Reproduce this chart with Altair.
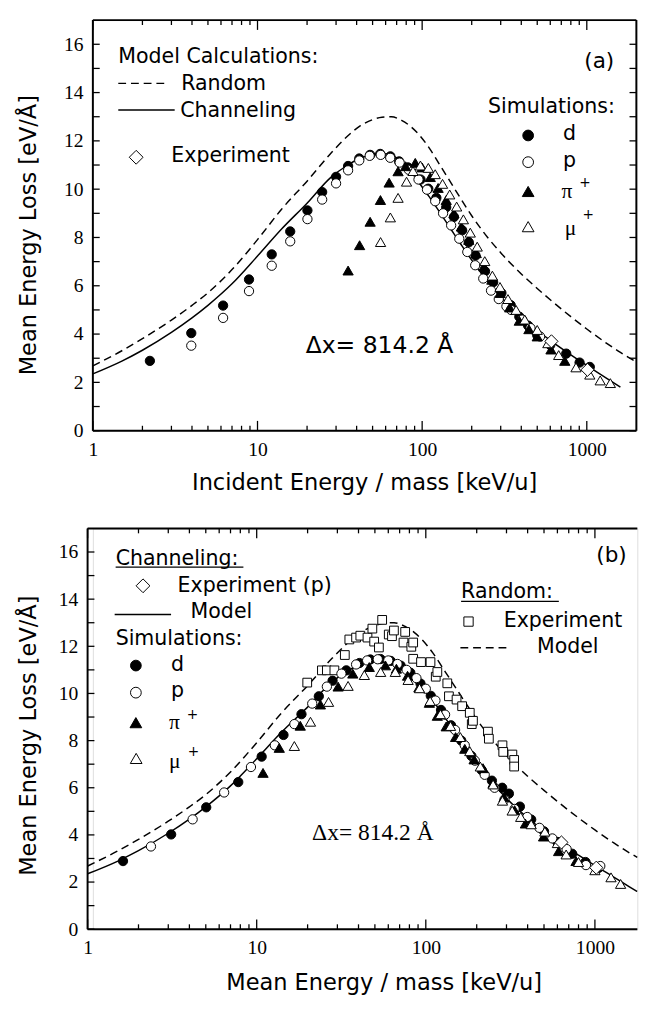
import altair as alt
import pandas as pd

# ---------------- axis ticks / labels ----------------
X_LABELS = [1, 10, 100, 1000]
X_MINOR = [2, 3, 4, 5, 6, 7, 8, 9, 20, 30, 40, 50, 60, 70, 80, 90,
           200, 300, 400, 500, 600, 700, 800, 900]
Y_LABELS = [0, 2, 4, 6, 8, 10, 12, 14, 16]
Y_TICKS = list(range(0, 17))

# ---------------- model curves ----------------
model_x = [1, 1.5, 2, 3, 4, 5, 7, 10, 14, 20, 28, 35, 42, 50, 57, 65, 75, 85, 95, 110,
           130, 150, 170, 200, 250, 300, 400, 500, 600, 800, 1000, 1300, 1600, 1780, 2000]
channeling_y = [2.35, 2.88, 3.33, 4.07, 4.67, 5.19, 6.08, 7.23, 8.35, 9.42,
                10.50, 10.98, 11.28, 11.43, 11.48, 11.41, 11.15, 10.75, 10.30, 9.70,
                8.97, 8.33, 7.77, 7.06, 6.18, 5.55, 4.72, 4.16, 3.74, 3.14,
                2.70, 2.20, 1.80, 1.60, 1.38]
random_y = [2.68, 3.31, 3.81, 4.58, 5.19, 5.71, 6.67, 7.91, 9.17, 10.33,
            11.50, 12.18, 12.62, 12.88, 12.98, 13.00, 12.85, 12.60, 12.28, 11.72,
            10.93, 10.25, 9.65, 8.90, 8.00, 7.37, 6.49, 5.89, 5.42, 4.72,
            4.21, 3.65, 3.24, 3.05, 2.85]

# ---------------- panel (a) ----------------
d_a_x = [2.22, 3.96, 6.18, 8.88, 12.2, 15.8, 20.1, 24.7, 30.0, 35.5, 41.5, 48.3, 55.6, 64.1,
         72.5, 82.0, 97.8, 109, 122, 140, 156, 175, 192, 211, 241, 270, 303, 345, 389, 440,
         500, 600, 750, 904, 1043]
d_a_y = [2.89, 4.04, 5.18, 6.26, 7.30, 8.25, 9.12, 9.88, 10.51, 10.96, 11.27, 11.42, 11.46,
         11.36, 11.15, 10.90, 10.40, 10.02, 9.64, 9.25, 8.85, 8.30, 7.80, 7.25, 6.60, 6.15,
         5.70, 5.20, 4.72, 4.35, 3.95, 3.55, 3.19, 2.82, 2.64]
p_a_x = [3.96, 6.18, 8.88, 12.2, 15.8, 20.1, 24.7, 30.0, 35.5, 41.5, 48.0, 56.0, 64.0, 73.0,
         83.0, 95.0, 107, 120, 134, 150, 168, 188, 210, 235, 262, 292, 325, 347, 405, 455, 520]
p_a_y = [3.52, 4.67, 5.78, 6.83, 7.84, 8.76, 9.57, 10.24, 10.78, 11.19, 11.38, 11.42, 11.30,
         11.10, 10.80, 10.40, 9.98, 9.50, 9.00, 8.50, 7.95, 7.40, 6.85, 6.30, 5.80, 5.45,
         5.15, 5.00, 4.60, 4.25, 3.90]
pi_a_x = [35.5, 41.7, 48.3, 55.8, 63.0, 71.4, 79.3, 90.8, 100, 112, 125, 140, 156, 173, 192,
          213, 237, 265, 298, 340, 389, 445, 500, 606, 735]
pi_a_y = [6.63, 7.68, 8.65, 9.55, 10.27, 10.74, 10.95, 11.09, 10.90, 10.50, 10.05, 9.55, 9.00,
          8.45, 7.90, 7.35, 6.80, 6.25, 5.70, 5.10, 4.55, 4.20, 3.90, 3.36, 2.89]
mu_a_x = [55.9, 64.1, 71.4, 80.4, 88.0, 97.6, 109, 120, 133, 147, 162, 178, 196, 216, 240,
          267, 297, 332, 372, 420, 500, 580, 675, 860, 1043, 1206, 1390]
mu_a_y = [7.81, 8.83, 9.64, 10.31, 10.75, 10.98, 10.88, 10.62, 10.22, 9.78, 9.28, 8.75, 8.20,
          7.62, 7.02, 6.42, 5.95, 5.45, 5.00, 4.60, 4.17, 3.62, 3.13, 2.62, 2.32, 2.08, 1.97]
exp_a_x = [610, 1010]
exp_a_y = [3.70, 2.52]

# ---------------- panel (b) ----------------
d_b_x = [1.62, 3.12, 5.03, 7.78, 10.7, 14.4, 18.4, 23.3, 28.1, 33.9, 40.5, 47.0, 54.0, 62.0,
         71.0, 81.0, 93.0, 107, 123, 141, 162, 186, 214, 246, 283, 310, 360, 420, 500, 600,
         734, 880, 1050]
d_b_y = [2.89, 4.02, 5.17, 6.24, 7.32, 8.24, 9.12, 9.88, 10.54, 10.98, 11.29, 11.44, 11.46,
         11.38, 11.18, 10.88, 10.42, 9.90, 9.30, 8.65, 8.00, 7.35, 6.75, 6.30, 6.00, 5.75,
         5.20, 4.65, 4.15, 3.70, 3.20, 2.85, 2.60]
p_b_x = [2.37, 4.18, 6.42, 9.25, 12.8, 16.7, 21.3, 26.0, 31.7, 38.7, 45.0, 52.0, 60.0, 68.0,
         77.0, 88.0, 100, 114, 130, 149, 170, 195, 223, 255, 292, 335, 398, 470, 560, 680,
         885, 1076]
p_b_y = [3.51, 4.66, 5.80, 6.88, 7.80, 8.70, 9.57, 10.29, 10.84, 11.23, 11.40, 11.45, 11.40,
         11.25, 11.00, 10.65, 10.20, 9.70, 9.10, 8.45, 7.80, 7.15, 6.55, 6.00, 5.50, 5.10,
         4.76, 4.30, 3.85, 3.40, 2.72, 2.68]
pi_b_x = [10.9, 13.6, 18.1, 23.8, 30.3, 37.0, 46.3, 57.7, 67.0, 78.0, 91.0, 105, 117, 132,
          150, 170, 193, 218, 250, 290, 335, 388, 497, 610, 773]
pi_b_y = [6.63, 7.69, 8.63, 9.53, 10.29, 10.84, 11.12, 11.19, 11.05, 10.75, 10.25, 9.60, 9.05,
          8.60, 8.15, 7.65, 7.20, 6.83, 6.20, 5.60, 5.05, 4.48, 3.93, 3.31, 2.89]
mu_b_x = [16.7, 20.8, 26.6, 34.7, 43.3, 54.1, 66.0, 78.6, 91.8, 106, 122, 140, 160, 182, 210,
          250, 284, 324, 364, 420, 506, 600, 676, 800, 1000, 1245, 1419]
mu_b_y = [7.77, 8.80, 9.64, 10.32, 10.78, 10.91, 10.91, 10.57, 10.22, 9.68, 9.12, 8.62, 8.15,
          7.55, 6.90, 6.14, 5.45, 5.03, 4.76, 4.45, 4.14, 3.65, 3.17, 2.85, 2.50, 2.20, 1.92]
exp_b_x = [634, 1019]
exp_b_y = [3.68, 2.61]
rnd_x = [19.9, 24.3, 26.0, 28.8, 33.2, 35.3, 38.7, 41.0, 45.2, 48.3, 49.5, 52.8, 55.2, 60.4,
         63.1, 64.8, 73.8, 75.5, 82.1, 84.2, 84.2, 93.7, 106.6, 114.5, 117, 134, 137, 152,
         164, 182, 187, 190, 233, 236, 284, 287, 325, 333, 333]
rnd_y = [10.46, 10.98, 10.98, 10.98, 11.63, 12.29, 12.37, 12.45, 12.37, 12.75, 12.20, 11.95,
         13.12, 12.50, 12.43, 12.67, 12.16, 12.61, 11.98, 12.16, 11.47, 11.33, 11.33, 10.71,
         10.91, 10.43, 9.88, 9.74, 9.46, 9.18, 8.70, 8.84, 8.38, 8.08, 7.80, 7.52, 7.41,
         7.18, 6.90]

# ---------------- styling / layout ----------------
SANS = "DejaVu Sans"
SERIF = "Liberation Serif"
ONE = pd.DataFrame({"k": [0]})

WA, HA = 556, 420
WB, HB = 557, 410
XB0 = -5.4
XB1 = XB0 + 173 * 3.30103

XSA = alt.Scale(type="log", domain=[1, 2000], range=[0, WA], nice=False)
XSB = alt.Scale(type="log", domain=[1, 2000], range=[XB0, XB1], nice=False)
YS = alt.Scale(domain=[0, 17], nice=False, zero=False)


def axis_x():
    return alt.Axis(values=X_LABELS, format="d", labelFont=SERIF, labelFontSize=20,
                    labelColor="black", ticks=False, tickSize=0, domain=False, grid=False,
                    title=None, labelPadding=9, labelFlush=False, labelOverlap=False)


def axis_y(offset):
    return alt.Axis(values=Y_LABELS, format="d", labelFont=SERIF, labelFontSize=20,
                    labelColor="black", ticks=False, tickSize=0, domain=False, grid=False,
                    title=None, labelPadding=10, offset=offset, labelOverlap=False)


def txt(s, x, y, size=21, font=SANS, align="left", baseline="alphabetic", angle=0):
    kw = dict(text=s, font=font, fontSize=size, align=align, baseline=baseline,
              color="black", fill="black", opacity=1)
    if angle:
        kw["angle"] = angle
    return alt.Chart(ONE).mark_text(**kw).encode(x=alt.value(x), y=alt.value(y))


def seg(x1, y1, x2, y2, width=1.5, dash=None):
    kw = dict(color="black", strokeWidth=width)
    if dash:
        kw["strokeDash"] = dash
    return alt.Chart(ONE).mark_rule(**kw).encode(
        x=alt.value(x1), y=alt.value(y1), x2=alt.value(x2), y2=alt.value(y2))


def sym(shape, fill, x, y, size):
    return alt.Chart(ONE).mark_point(shape=shape, filled=True, fill=fill, stroke="black",
                                     strokeWidth=1, size=size, opacity=1).encode(
        x=alt.value(x), y=alt.value(y))


class Panel:
    def __init__(self, xs, xax, yax, w, h):
        self.xs, self.xax, self.yax, self.w, self.h = xs, xax, yax, w, h

    def X(self, f):
        return alt.X(f, scale=self.xs, axis=self.xax)

    def Y(self, f):
        return alt.Y(f, scale=YS, axis=self.yax)

    def series(self, xs, ys, shape, fill, size):
        df = pd.DataFrame({"e": xs, "s": ys})
        return alt.Chart(df).mark_point(shape=shape, filled=True, fill=fill, stroke="black",
                                        strokeWidth=1, size=size, opacity=1).encode(
            x=self.X("e:Q"), y=self.Y("s:Q"))

    def curve(self, xs, ys, xmax, dash=None):
        df = pd.DataFrame({"e": xs, "s": ys})
        df = df[df["e"] <= xmax]
        kw = dict(color="black", strokeWidth=1.5, interpolate="monotone")
        if dash:
            kw["strokeDash"] = dash
        return alt.Chart(df).mark_line(**kw).encode(
            x=self.X("e:Q"), y=self.Y("s:Q"), order="e:Q")

    def xticks(self, vals, length):
        df = pd.DataFrame({"v": vals})
        base = alt.Chart(df).mark_rule(color="black", strokeWidth=1.3)
        return [base.encode(x=self.X("v:Q"), y=alt.value(self.h), y2=alt.value(self.h - length)),
                base.encode(x=self.X("v:Q"), y=alt.value(0), y2=alt.value(length))]

    def yticks(self, x0, x1):
        df = pd.DataFrame({"v": Y_TICKS})
        return alt.Chart(df).mark_rule(color="black", strokeWidth=1.3).encode(
            y=self.Y("v:Q"), x=alt.value(x0), x2=alt.value(x1))


# ---------------- panel (a) ----------------
A = Panel(XSA, axis_x(), axis_y(0), WA, HA)
layers_a = [
    alt.Chart(ONE).mark_point(filled=True, size=1, opacity=0, strokeWidth=0).encode(
        x=alt.value(-93.5), y=alt.value(-7.5)),
    seg(0, 0, WA, 0, 2), seg(WA, 0, WA, HA, 2), seg(0, 0, 0, HA, 2), seg(0, HA, WA, HA, 2),
    *A.xticks(X_LABELS, 10), *A.xticks(X_MINOR, 5),
    A.yticks(0, 7), A.yticks(WA, WA - 7),
    A.curve(model_x, random_y, 2000, [8, 5]),
    A.curve(model_x, channeling_y, 1600),
    A.series(d_a_x, d_a_y, "circle", "black", 90),
    A.series(p_a_x, p_a_y, "circle", "white", 90),
    A.series(pi_a_x, pi_a_y, "triangle-up", "black", 110),
    A.series(mu_a_x, mu_a_y, "triangle-up", "white", 110),
    A.series(exp_a_x, exp_a_y, "diamond", "white", 180),
    txt("Model Calculations:", 26, 43.7),
    seg(26, 64.7, 77.7, 64.7, 1.5, [8, 5]), txt("Random", 90.3, 71.3),
    seg(26, 92, 83.7, 92), txt("Channeling", 89.3, 99.3),
    sym("diamond", "white", 44.3, 140.3, 200), txt("Experiment", 80.3, 145.3),
    txt("(a)", 502.7, 48.7, 22),
    txt("Simulations:", 404.3, 95.3),
    sym("circle", "black", 445.3, 118, 121), txt("d", 481, 122.7),
    sym("circle", "white", 445.3, 145.3, 121), txt("p", 481, 150.3),
    sym("triangle-up", "black", 445.3, 175.3, 144), txt("π", 479.3, 182, 22, SERIF),
    txt("+", 497.5, 167, 14, baseline="middle"),
    sym("triangle-up", "white", 445.3, 211.3, 144), txt("μ", 482.7, 220, 22, SERIF),
    txt("+", 501, 199, 14, baseline="middle"),
    txt("Δx= 814.2 Å", 217.7, 340.3, 24),
    txt("Mean Energy Loss [eV/Å]", -65, 220, 23, align="center", baseline="middle", angle=270),
    txt("Incident Energy / mass [keV/u]", 278, 474, 23, align="center", baseline="middle"),
]
panel_a = alt.layer(*layers_a).properties(width=WA, height=HA)

# ---------------- panel (b) ----------------
B = Panel(XSB, axis_x(), axis_y(-XB0), WB, HB)
layers_b = [
    seg(XB0, 0, WB, 0, 2), seg(XB0, 0, XB0, HB, 2), seg(XB0, HB, WB, HB, 2),
    *B.xticks(X_LABELS, 10), *B.xticks(X_MINOR, 5),
    B.yticks(XB0, XB0 + 7),
    B.curve(model_x, random_y, 1780, [8, 5]),
    B.curve(model_x, channeling_y, 1780),
    B.series(rnd_x, rnd_y, "square", "white", 80),
    B.series(d_b_x, d_b_y, "circle", "black", 90),
    B.series(p_b_x, p_b_y, "circle", "white", 90),
    B.series(pi_b_x, pi_b_y, "triangle-up", "black", 110),
    B.series(mu_b_x, mu_b_y, "triangle-up", "white", 110),
    B.series(exp_b_x, exp_b_y, "diamond", "white", 180),
    txt("Channeling:", 23.3, 37), seg(23.3, 39.5, 154, 39.5, 1.3),
    sym("diamond", "white", 51.3, 58.7, 200), txt("Experiment (p)", 86.7, 64.7),
    seg(22.3, 88, 80, 88), txt("Model", 100, 92),
    txt("Simulations:", 23.3, 119.3),
    sym("circle", "black", 44, 140.3, 121), txt("d", 80, 146),
    sym("circle", "white", 44, 168, 121), txt("p", 80, 172.7),
    sym("triangle-up", "black", 44, 198.7, 144), txt("π", 78, 205.3, 22, SERIF),
    txt("+", 96, 191.3, 14, baseline="middle"),
    sym("triangle-up", "white", 44.3, 235.3, 144), txt("μ", 78, 245.3, 22, SERIF),
    txt("+", 97, 229, 14, baseline="middle"),
    txt("Random:", 376.7, 71.3), seg(376.7, 74.7, 476.7, 74.7, 1.3),
    sym("square", "white", 384.3, 95.3, 90), txt("Experiment", 420.3, 101.3),
    seg(376, 122, 427.7, 122, 1.5, [8, 5]), txt("Model", 454.3, 127),
    txt("(b)", 515, 34.7, 22),
    txt("Δx= 814.2 Å", 224.3, 318.7, 24, SERIF),
    txt("Mean Energy Loss [eV/Å]", -65, 212, 23, align="center", baseline="middle", angle=270),
    txt("Mean Energy / mass [keV/u]", 298, 465, 23, align="center", baseline="middle"),
]
panel_b = alt.layer(*layers_b).properties(width=WB, height=HB)

chart = alt.vconcat(panel_a, panel_b, spacing=100, bounds="flush").properties(
    autosize=alt.AutoSizeParams(type="pad"), padding=0
).configure_view(stroke=None).configure(background="white")

chart.save("out.html", embed_options={"renderer": "svg", "actions": False})
